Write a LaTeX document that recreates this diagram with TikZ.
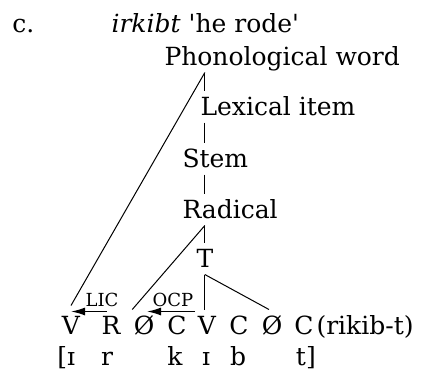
\documentclass[tikz,border=0pt]{standalone}
\usepackage{fontspec}
\setmainfont{DejaVu Serif}
\usetikzlibrary{arrows.meta}

\begin{document}
\begin{tikzpicture}[x=1pt, y=-1pt,
				>={Latex[length=14pt, width=8pt]},
				line width=1pt,
				every node/.style={inner sep=1pt, font=\fontsize{25}{30}\selectfont},
				lvl/.style={anchor=base west, text height=23pt, text depth=6pt},
				seg/.style={anchor=base, text height=23pt, text depth=6pt},
				tag/.style={anchor=base, font=\fontsize{18}{20}\selectfont}]
				\useasboundingbox (0,0) rectangle (425,373);
				% heading
				\node at (11,32) (ex) [anchor=base west] {c.};
				\node at (110,32) (gloss) [anchor=base west] {\textit{irkibt} \textquotesingle he rode\textquotesingle};
				% levels
				\node at (163,65) (pw) [lvl] {Phonological word};
				\node at (199,115) (lex) [lvl] {Lexical item};
				\node at (181,167) (stem) [lvl] {Stem};
				\node at (181,218) (rad) [lvl] {Radical};
				\node at (195,267) (t) [lvl] {T};
				% skeleton
				\node at (71,334) (v1) [seg] {V};
				\node at (111,334) (r1) [seg] {R};
				\node at (144,334) (o1) [seg] {Ø};
				\node at (177,334) (c1) [seg] {C};
				\node at (207,334) (v2) [seg] {V};
				\node at (239,334) (c2) [seg] {C};
				\node at (272,334) (o2) [seg] {Ø};
				\node at (304,334) (c3) [seg] {C};
				\node at (315,334) (form) [anchor=base west] {(rikib-t)};
				% surface
				\node at (71,365) (s1) [anchor=base] {\llap{[}ɪ};
				\node at (107,365) (s2) [anchor=base] {r};
				\node at (175,365) (s3) [anchor=base] {k};
				\node at (206,365) (s4) [anchor=base] {ɪ};
				\node at (238,365) (s5) [anchor=base] {b};
				\node at (301,365) (s6) [anchor=base] {t\rlap{]}};
				% relations
				\node at (102,306) (lic) [tag] {LIC};
				\node at (173,306) (ocp) [tag] {OCP};
				\draw[-, black] (pw.south -| t) -- (lex.north -| t);
				\draw[-, black] (lex.south -| t) -- (stem.north -| t);
				\draw[-, black] (stem.south -| t) -- (rad.north -| t);
				\draw[-, black] (rad.south -| t) -- (t.north);
				\draw[-, black] (pw.south -| t) -- ([yshift=4pt]v1.north);
				\draw[-, black] (rad.south -| t) -- (o1.north west);
				\draw[-, black] (t.south) -- (t.south |- v2.north);
				\draw[-, black] (t.south) -- ([xshift=-3pt]o2.north);
				\draw[->, black, line width=1.5pt] ([xshift=-4pt, yshift=-2pt]r1.north) -- ([yshift=-2pt]v1.north);
				\draw[->, black, line width=1.5pt] ([xshift=-12pt, yshift=-2pt]v2.north) -- ([xshift=3pt, yshift=-2pt]o1.north);
			\end{tikzpicture}
\end{document}
